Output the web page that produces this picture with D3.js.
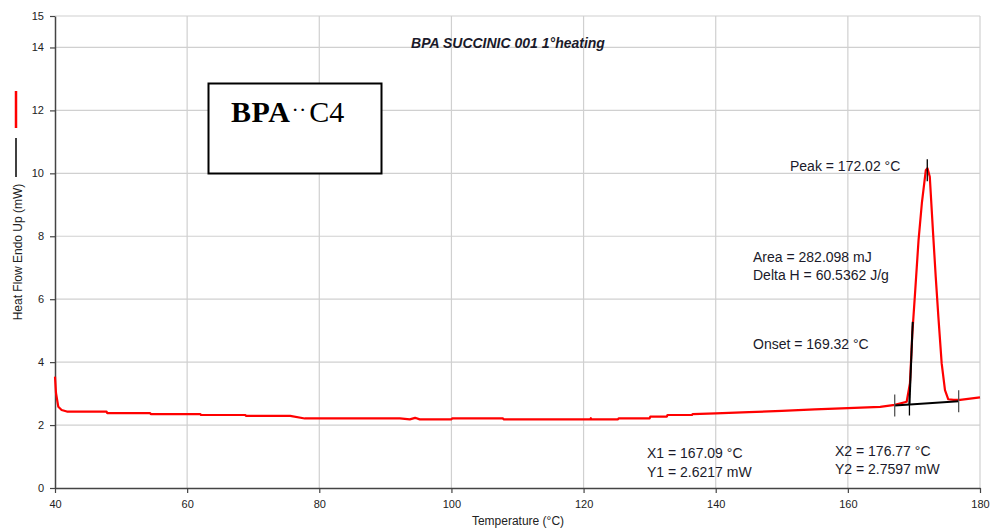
<!DOCTYPE html>
<html>
<head>
<meta charset="utf-8">
<script src="https://cdn.jsdelivr.net/npm/d3@7"></script>
<style>
  html, body { margin: 0; padding: 0; background: #fff; }
  svg { display: block; font-family: "Liberation Sans", Arial, sans-serif; }
</style>
</head>
<body>
<svg id="chart" width="991" height="529"></svg>
<script>
// heat flow curve (temperature in °C, heat flow in mW)
const temperature = [40, 40.15, 40.5, 41.0, 41.8, 47.8, 47.9, 54.4, 54.5, 62, 62.1, 68.8, 68.9, 75.6, 77.8,
  92.2, 93.7, 94.5, 95.2, 100, 100.1, 107.8, 107.9, 121.0, 121.1, 121.2, 125.2, 125.3, 130, 130.1,
  132.6, 132.7, 136.4, 136.5, 140, 145, 150, 155, 160, 164.9, 167.1, 168.9, 169.4, 169.76, 170.2,
  170.7, 171.2, 171.8, 172.05, 172.4, 172.9, 173.3, 173.7, 174.2, 174.7, 175.2, 176, 177, 178.5, 180];
const heatFlow = [3.54, 3.02, 2.58, 2.48, 2.43, 2.43, 2.38, 2.38, 2.35, 2.35, 2.32, 2.32, 2.29, 2.29, 2.21,
  2.21, 2.18, 2.23, 2.18, 2.18, 2.21, 2.21, 2.18, 2.18, 2.22, 2.18, 2.18, 2.21, 2.21, 2.27,
  2.27, 2.32, 2.32, 2.35, 2.37, 2.41, 2.45, 2.50, 2.54, 2.58, 2.64, 2.74, 3.33, 4.92, 6.29,
  7.88, 9.05, 10.1, 10.16, 9.89, 8.09, 6.71, 5.44, 3.96, 3.11, 2.82, 2.80, 2.80, 2.84, 2.88];

// analysis lines
const baselineX = [167.09, 176.77];
const baselineY = [2.6217, 2.7597];
const tangentX = [169.32, 169.82];
const tangentY = [2.65, 5.28];
const markerX = [167.09, 169.32, 176.77, 172.02];
const markerY = [2.6217, 2.6535, 2.7597, 10.1];
const markerColor = ['#555', '#000', '#555', '#000'];

const xTicks = [40, 60, 80, 100, 120, 140, 160, 180];
const yTicks = [0, 2, 4, 6, 8, 10, 12, 14, 15];

const titleText = 'BPA SUCCINIC 001 1°heating';
const xLabel = 'Temperature (°C)';
const yLabel = 'Heat Flow Endo Up (mW)';

const notes = [
  {t: 'Peak = 172.02 °C', x: 790, y: 171},
  {t: 'Area = 282.098 mJ', x: 753, y: 262},
  {t: 'Delta H = 60.5362 J/g', x: 753, y: 280},
  {t: 'Onset = 169.32 °C', x: 753, y: 349},
  {t: 'X1 = 167.09 °C', x: 647, y: 458},
  {t: 'Y1 = 2.6217 mW', x: 647, y: 477},
  {t: 'X2 = 176.77 °C', x: 835, y: 456},
  {t: 'Y2 = 2.7597 mW', x: 835, y: 474}
];

const svg = d3.select('#chart');
const plotLeft = 55, plotRight = 980, plotTop = 16, plotBottom = 488;

const x = d3.scaleLinear().domain([40, 180]).range([plotLeft, plotRight]);
const y = d3.scaleLinear().domain([0, 15]).range([plotBottom, plotTop]);

// grid
svg.append('g')
  .selectAll('line')
  .data(yTicks.filter(d => d > 0))
  .join('line')
  .attr('x1', plotLeft).attr('x2', plotRight)
  .attr('y1', d => y(d)).attr('y2', d => y(d))
  .attr('stroke', '#d0d0d0').attr('stroke-width', 1.2);

svg.append('g')
  .selectAll('line')
  .data(xTicks.filter(d => d > 40))
  .join('line')
  .attr('x1', d => x(d)).attr('x2', d => x(d))
  .attr('y1', plotTop).attr('y2', plotBottom)
  .attr('stroke', '#d0d0d0').attr('stroke-width', 1.2);

// axes
const xAxis = svg.append('g')
  .attr('transform', `translate(0,${plotBottom})`)
  .call(d3.axisBottom(x).tickValues(xTicks).tickSize(5).tickSizeOuter(0).tickPadding(7));
const yAxis = svg.append('g')
  .attr('transform', `translate(${plotLeft},0)`)
  .call(d3.axisLeft(y).tickValues(yTicks).tickSize(5).tickSizeOuter(0).tickPadding(6));

[xAxis, yAxis].forEach(a => {
  a.select('.domain').attr('stroke', '#444').attr('stroke-width', 1.5);
  a.selectAll('.tick line').attr('stroke', '#444').attr('stroke-width', 1.2);
  a.selectAll('.tick text')
    .attr('fill', '#222')
    .style('font-family', '"Liberation Sans", Arial, sans-serif')
    .style('font-size', '11px');
});

// curve
const pts = temperature.map((t, i) => [t, heatFlow[i]]);
const line = d3.line().x(d => x(d[0])).y(d => y(d[1]));

svg.append('path')
  .datum(pts)
  .attr('d', line)
  .attr('fill', 'none')
  .attr('stroke', '#ff0000')
  .attr('stroke-width', 2.2)
  .attr('stroke-linejoin', 'round');

// baseline and onset tangent
svg.append('path')
  .datum(baselineX.map((t, i) => [t, baselineY[i]]))
  .attr('d', line)
  .attr('stroke', '#000').attr('stroke-width', 2).attr('fill', 'none');

svg.append('path')
  .datum(tangentX.map((t, i) => [t, tangentY[i]]))
  .attr('d', line)
  .attr('stroke', '#000').attr('stroke-width', 2).attr('fill', 'none');

svg.append('g')
  .selectAll('line')
  .data(markerX)
  .join('line')
  .attr('x1', d => x(d)).attr('x2', d => x(d))
  .attr('y1', (d, i) => y(markerY[i]) - 11)
  .attr('y2', (d, i) => y(markerY[i]) + 11)
  .attr('stroke', (d, i) => markerColor[i])
  .attr('stroke-width', 1.3);

// title
svg.append('text')
  .attr('x', 508).attr('y', 48)
  .attr('text-anchor', 'middle')
  .style('font-size', '14px')
  .style('font-weight', 'bold')
  .style('font-style', 'italic')
  .attr('fill', '#1a1a2a')
  .text(titleText);

// annotations
svg.append('g')
  .selectAll('text')
  .data(notes)
  .join('text')
  .attr('x', d => d.x).attr('y', d => d.y)
  .style('font-size', '14px')
  .attr('fill', '#1a1a2a')
  .text(d => d.t);

// axis labels
svg.append('text')
  .attr('x', 518).attr('y', 525)
  .attr('text-anchor', 'middle')
  .style('font-size', '12px')
  .attr('fill', '#222')
  .text(xLabel);

svg.append('text')
  .attr('transform', 'translate(22,252) rotate(-90)')
  .attr('text-anchor', 'middle')
  .style('font-size', '12px')
  .attr('fill', '#222')
  .text(yLabel);

// series keys beside the y label
svg.append('line')
  .attr('x1', 16).attr('x2', 16).attr('y1', 91).attr('y2', 128)
  .attr('stroke', '#ff0000').attr('stroke-width', 2.5);
svg.append('line')
  .attr('x1', 16).attr('x2', 16).attr('y1', 138).attr('y2', 177)
  .attr('stroke', '#000').attr('stroke-width', 1.5);

// sample name box
svg.append('rect')
  .attr('x', 208.5).attr('y', 83.5).attr('width', 173).attr('height', 90)
  .attr('fill', '#fff').attr('stroke', '#000').attr('stroke-width', 2);

const label = svg.append('text')
  .attr('x', 231).attr('y', 122)
  .style('font-family', '"Liberation Serif", "Times New Roman", serif')
  .style('font-size', '30px')
  .attr('fill', '#000');
label.append('tspan').style('font-weight', 'bold').style('letter-spacing', '0.6px').text('BPA');
label.append('tspan').attr('dx', 1).attr('dy', -5).style('font-size', '22px').text('··');
label.append('tspan').attr('dx', 3).attr('dy', 5).text('C4');
</script>
</body>
</html>
